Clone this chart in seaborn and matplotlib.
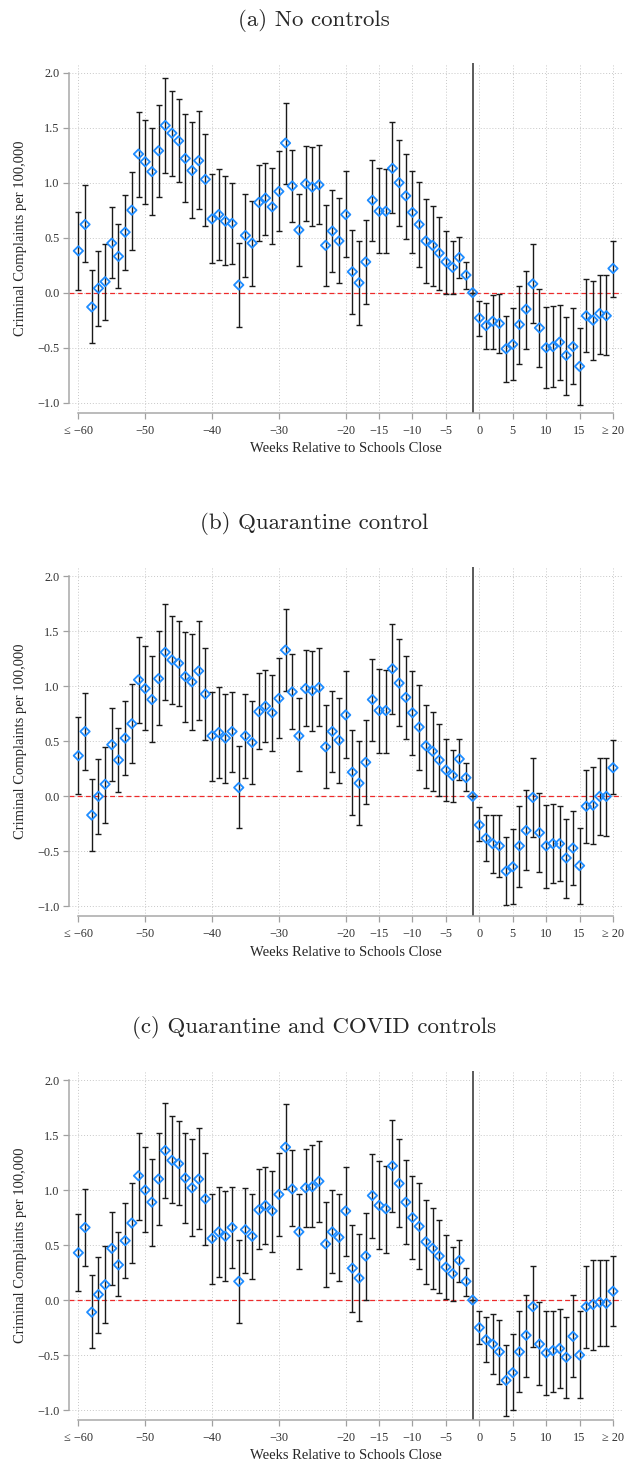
import numpy as np
import pandas as pd
import matplotlib
matplotlib.use('Agg')
import matplotlib.pyplot as plt
from matplotlib.ticker import FuncFormatter
import seaborn as sns

### datos (semanas -60 .. 20)
weeks = list(range(-60, 21))

coef_a = [0.38, 0.62, -0.13, 0.04, 0.10, 0.45, 0.33, 0.55, 0.75, 1.26,
          1.19, 1.10, 1.29, 1.52, 1.45, 1.38, 1.22, 1.11, 1.20, 1.03,
          0.67, 0.71, 0.65, 0.63, 0.07, 0.52, 0.45, 0.82, 0.86, 0.78,
          0.92, 1.36, 0.97, 0.57, 0.99, 0.96, 0.98, 0.43, 0.56, 0.47,
          0.71, 0.19, 0.09, 0.28, 0.84, 0.74, 0.74, 1.13, 1.00, 0.88,
          0.73, 0.62, 0.47, 0.43, 0.36, 0.28, 0.23, 0.32, 0.16, 0.00,
          -0.23, -0.30, -0.26, -0.28, -0.51, -0.47, -0.29, -0.15, 0.08, -0.32,
          -0.50, -0.49, -0.45, -0.57, -0.49, -0.67, -0.21, -0.25, -0.19, -0.21,
          0.22]
hi_a = [0.73, 0.98, 0.21, 0.38, 0.44, 0.78, 0.62, 0.89, 1.10, 1.64,
        1.57, 1.50, 1.71, 1.95, 1.83, 1.76, 1.62, 1.55, 1.65, 1.44,
        1.08, 1.12, 1.06, 1.00, 0.45, 0.90, 0.83, 1.16, 1.18, 1.13,
        1.29, 1.72, 1.30, 0.90, 1.33, 1.32, 1.34, 0.80, 0.93, 0.86,
        1.11, 0.57, 0.47, 0.66, 1.21, 1.13, 1.12, 1.55, 1.39, 1.26,
        1.11, 1.01, 0.85, 0.79, 0.69, 0.56, 0.47, 0.51, 0.28, 0.00,
        -0.08, -0.09, -0.02, -0.01, -0.21, -0.14, 0.06, 0.20, 0.44, 0.03,
        -0.13, -0.12, -0.11, -0.22, -0.14, -0.32, 0.12, 0.11, 0.16, 0.16,
        0.47]
lo_a = [0.02, 0.28, -0.46, -0.30, -0.25, 0.13, 0.04, 0.21, 0.39, 0.87,
        0.81, 0.71, 0.87, 1.09, 1.06, 1.01, 0.82, 0.68, 0.76, 0.61,
        0.27, 0.30, 0.25, 0.26, -0.31, 0.14, 0.06, 0.47, 0.52, 0.44,
        0.56, 0.99, 0.64, 0.24, 0.65, 0.61, 0.62, 0.06, 0.19, 0.09,
        0.32, -0.19, -0.29, -0.10, 0.47, 0.36, 0.36, 0.72, 0.61, 0.49,
        0.36, 0.23, 0.09, 0.06, 0.02, -0.01, -0.01, 0.13, 0.03, 0.00,
        -0.39, -0.51, -0.51, -0.55, -0.81, -0.79, -0.65, -0.51, -0.28, -0.68,
        -0.87, -0.86, -0.79, -0.93, -0.83, -1.02, -0.54, -0.61, -0.56, -0.57,
        -0.04]

coef_b = [0.37, 0.59, -0.17, 0.00, 0.11, 0.47, 0.33, 0.53, 0.66, 1.06,
          0.98, 0.88, 1.07, 1.31, 1.24, 1.21, 1.09, 1.04, 1.14, 0.93,
          0.55, 0.58, 0.53, 0.59, 0.08, 0.55, 0.49, 0.77, 0.82, 0.76,
          0.89, 1.33, 0.95, 0.55, 0.98, 0.96, 0.99, 0.45, 0.59, 0.51,
          0.74, 0.22, 0.12, 0.31, 0.88, 0.78, 0.78, 1.16, 1.03, 0.90,
          0.76, 0.63, 0.46, 0.41, 0.33, 0.24, 0.19, 0.34, 0.17, 0.00,
          -0.26, -0.38, -0.43, -0.45, -0.68, -0.64, -0.45, -0.31, -0.01, -0.33,
          -0.45, -0.43, -0.43, -0.56, -0.47, -0.63, -0.09, -0.08, 0.00, 0.00,
          0.26]
hi_b = [0.72, 0.94, 0.16, 0.34, 0.45, 0.80, 0.62, 0.87, 1.02, 1.45,
        1.37, 1.28, 1.50, 1.75, 1.64, 1.59, 1.49, 1.48, 1.59, 1.35,
        0.95, 0.99, 0.93, 0.95, 0.46, 0.93, 0.87, 1.12, 1.15, 1.10,
        1.26, 1.70, 1.29, 0.89, 1.33, 1.32, 1.35, 0.83, 0.96, 0.89,
        1.14, 0.60, 0.50, 0.69, 1.25, 1.16, 1.15, 1.57, 1.43, 1.28,
        1.14, 1.01, 0.83, 0.77, 0.66, 0.52, 0.42, 0.52, 0.30, 0.00,
        -0.10, -0.17, -0.17, -0.17, -0.37, -0.30, -0.09, 0.06, 0.35, 0.03,
        -0.08, -0.07, -0.09, -0.21, -0.13, -0.29, 0.24, 0.27, 0.35, 0.35,
        0.51]
lo_b = [0.02, 0.24, -0.50, -0.34, -0.24, 0.14, 0.04, 0.19, 0.30, 0.67,
        0.60, 0.49, 0.65, 0.88, 0.84, 0.82, 0.68, 0.60, 0.69, 0.51,
        0.14, 0.17, 0.12, 0.22, -0.29, 0.17, 0.11, 0.43, 0.49, 0.41,
        0.53, 0.96, 0.61, 0.23, 0.64, 0.59, 0.64, 0.08, 0.22, 0.12,
        0.35, -0.17, -0.26, -0.07, 0.50, 0.39, 0.39, 0.75, 0.64, 0.52,
        0.38, 0.24, 0.08, 0.05, 0.00, -0.04, -0.05, 0.15, 0.05, 0.00,
        -0.41, -0.59, -0.70, -0.73, -0.99, -0.98, -0.82, -0.67, -0.37, -0.69,
        -0.83, -0.79, -0.77, -0.92, -0.81, -0.98, -0.42, -0.43, -0.35, -0.36,
        0.02]

coef_c = [0.43, 0.66, -0.11, 0.05, 0.14, 0.47, 0.32, 0.54, 0.70, 1.13,
          1.00, 0.89, 1.10, 1.36, 1.27, 1.24, 1.11, 1.02, 1.10, 0.92,
          0.56, 0.62, 0.58, 0.66, 0.17, 0.64, 0.58, 0.82, 0.86, 0.81,
          0.96, 1.39, 1.01, 0.62, 1.02, 1.03, 1.08, 0.51, 0.62, 0.57,
          0.81, 0.29, 0.20, 0.40, 0.95, 0.86, 0.83, 1.22, 1.06, 0.89,
          0.75, 0.67, 0.53, 0.47, 0.40, 0.30, 0.24, 0.36, 0.17, 0.00,
          -0.25, -0.36, -0.40, -0.47, -0.73, -0.66, -0.47, -0.32, -0.06, -0.40,
          -0.48, -0.46, -0.44, -0.52, -0.33, -0.50, -0.06, -0.04, -0.02, -0.03,
          0.08]
hi_c = [0.78, 1.01, 0.23, 0.39, 0.49, 0.80, 0.62, 0.88, 1.06, 1.52,
        1.39, 1.28, 1.52, 1.79, 1.67, 1.63, 1.52, 1.46, 1.56, 1.34,
        0.96, 1.03, 0.99, 1.03, 0.55, 1.02, 0.96, 1.19, 1.21, 1.17,
        1.34, 1.78, 1.36, 0.96, 1.37, 1.41, 1.45, 0.89, 1.00, 0.96,
        1.21, 0.68, 0.60, 0.79, 1.33, 1.26, 1.22, 1.64, 1.46, 1.27,
        1.13, 1.06, 0.91, 0.84, 0.73, 0.59, 0.48, 0.55, 0.29, 0.00,
        -0.10, -0.15, -0.13, -0.18, -0.41, -0.31, -0.10, 0.05, 0.31, -0.02,
        -0.10, -0.10, -0.08, -0.15, 0.05, -0.10, 0.31, 0.36, 0.36, 0.36,
        0.40]
lo_c = [0.08, 0.31, -0.44, -0.30, -0.21, 0.14, 0.04, 0.20, 0.34, 0.73,
        0.62, 0.49, 0.68, 0.93, 0.88, 0.86, 0.70, 0.58, 0.65, 0.50,
        0.15, 0.21, 0.17, 0.29, -0.21, 0.25, 0.19, 0.46, 0.51, 0.44,
        0.58, 1.01, 0.67, 0.28, 0.66, 0.66, 0.71, 0.12, 0.25, 0.17,
        0.40, -0.11, -0.19, 0.00, 0.56, 0.46, 0.43, 0.80, 0.66, 0.51,
        0.37, 0.28, 0.15, 0.10, 0.06, 0.01, -0.01, 0.16, 0.04, 0.00,
        -0.40, -0.56, -0.67, -0.76, -1.05, -1.00, -0.84, -0.70, -0.43, -0.77,
        -0.86, -0.84, -0.80, -0.89, -0.70, -0.89, -0.44, -0.45, -0.42, -0.42,
        -0.24]

titles = ['(a) No controls', '(b) Quarantine control', '(c) Quarantine and COVID controls']
xtick_vals = [-60, -50, -40, -30, -20, -15, -10, -5, 0, 5, 10, 15, 20]
xtick_labels = ['≤ −60', '−50', '−40', '−30', '−20', '−15', '−10', '−5', '0', '5', '10', '15', '≥ 20']
ytick_vals = [-1.0, -0.5, 0.0, 0.5, 1.0, 1.5, 2.0]

sns.set_style('white')
plt.rcParams['font.family'] = ['Liberation Serif', 'DejaVu Serif']

W, H = 624, 1464
fig = plt.figure(figsize=(W / 100, H / 100), dpi=100)

paneles = [(coef_a, lo_a, hi_a), (coef_b, lo_b, hi_b), (coef_c, lo_c, hi_c)]
step = 503.7

for i, ((coef, lo, hi), title) in enumerate(zip(paneles, titles)):
    df = pd.DataFrame({'week': weeks, 'coef': coef, 'lo': lo, 'hi': hi})

    top_px = 63.3 + step * i
    bot_px = 412.7 + step * i
    left_px, right_px = 69, 622
    ax = fig.add_axes([left_px / W, 1 - bot_px / H, (right_px - left_px) / W, (bot_px - top_px) / H])

    ax.set_xlim(-61.4, 21.35)
    ax.set_ylim(-1.091, 2.085)

    # grilla punteada
    for v in ytick_vals:
        ax.axhline(v, color='#c8c8c8', lw=0.7, ls=(0, (1, 2)), zorder=0)
    for v in xtick_vals:
        ax.axvline(v, color='#c8c8c8', lw=0.7, ls=(0, (1, 2)), zorder=0)

    ax.axhline(0, color='#ee2a2a', lw=0.9, ls=(0, (4, 2.5)), zorder=1)
    ax.axvline(-1, color='#5a5a5a', lw=1.4, zorder=2)

    ax.errorbar(df['week'], df['coef'],
                yerr=[df['coef'] - df['lo'], df['hi'] - df['coef']],
                fmt='none', ecolor='#1a1a1a', elinewidth=1.0, capsize=2.2, capthick=1.0, zorder=3)
    sns.scatterplot(data=df, x='week', y='coef', ax=ax, marker='D', s=23,
                    facecolor='none', edgecolor='#1e8cff', linewidth=1.3, zorder=4, legend=False)

    ax.set_xticks(xtick_vals)
    ax.set_xticklabels(xtick_labels)
    ax.set_yticks(ytick_vals)
    ax.yaxis.set_major_formatter(FuncFormatter(lambda v, p: f'{v:.1f}'.replace('-', '−')))
    ax.tick_params(axis='both', labelsize=8.8, colors='#333333', length=4, width=0.9,
                   color='#a0a0a0', direction='out', pad=3)
    ax.tick_params(axis='x', pad=4.5)
    ax.tick_params(axis='both', which='both', bottom=True, left=True)

    for s in ['top', 'right']:
        ax.spines[s].set_visible(False)
    ax.spines['left'].set_bounds(-1, 2)
    ax.spines['bottom'].set_bounds(-60, 20)
    for s in ['left', 'bottom']:
        ax.spines[s].set_color('#a8a8a8')
        ax.spines[s].set_linewidth(1.1)

    ax.set_xlabel('Weeks Relative to Schools Close', fontsize=10.5, labelpad=4)
    ax.set_ylabel('Criminal Complaints per 100,000', fontsize=10.5, labelpad=7)

    fig.text(0.503, 1 - (20 + step * i) / H, title, ha='center', va='center',
             fontsize=16.5, family='cmr10')

plt.savefig('out.png', dpi=100)
